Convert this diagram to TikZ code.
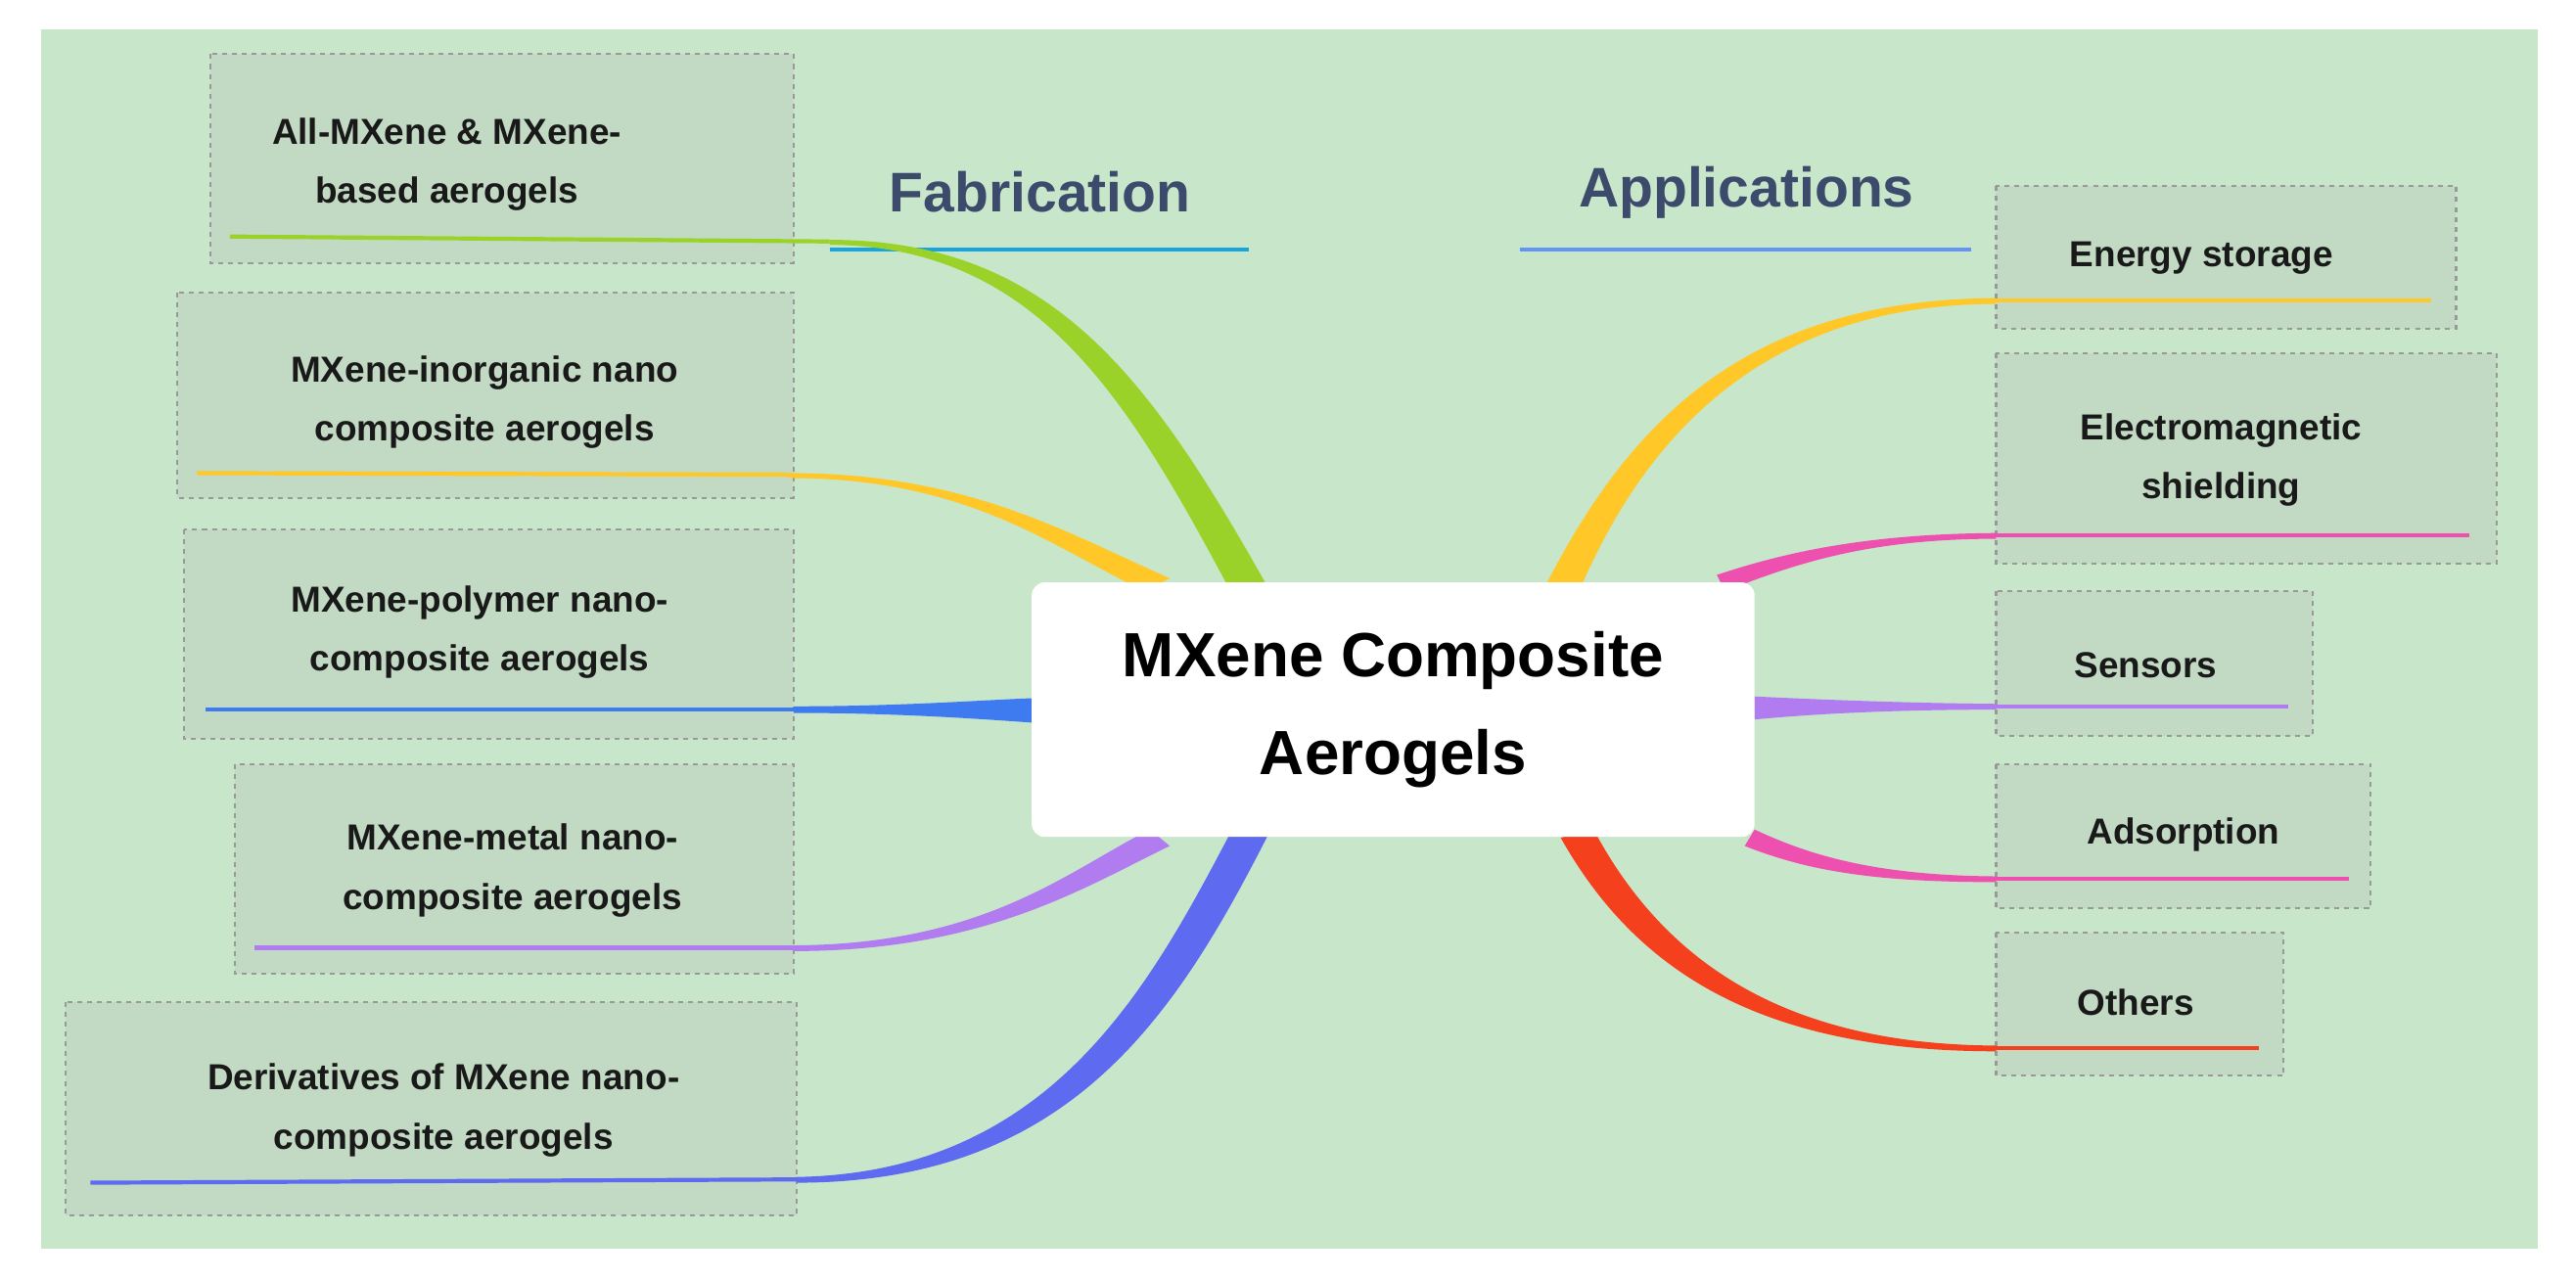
\documentclass[tikz,border=0pt]{standalone}
\usepackage{fontspec}
\setmainfont{Liberation Sans}
\begin{document}
\begin{tikzpicture}[x=1pt,y=-1pt,
  leaf/.style={draw=gray!80,dashed,line width=1.2pt,fill=boxfill},
  lbl/.style={font=\bfseries\fontsize{22}{36}\selectfont,align=center,text=black!90},
  thin/.style={line width=2.5pt}]
\definecolor{bg}{HTML}{C8E6C9}
\definecolor{boxfill}{HTML}{C2DAC3}
\definecolor{cgreen}{HTML}{9BD22A}
\definecolor{cyellow}{HTML}{FFC828}
\definecolor{cblue}{HTML}{3F7BF0}
\definecolor{cpurple}{HTML}{B07CF0}
\definecolor{cviolet}{HTML}{5E6AF0}
\definecolor{cpink}{HTML}{EE50B0}
\definecolor{cred}{HTML}{F5401E}
\definecolor{title}{HTML}{3C4A6C}
\useasboundingbox (0,0) rectangle (1568,779);
\fill[bg] (25,18) rectangle (1545,760);
% leaf boxes
\draw[leaf] (128,33) rectangle (483,160);
\draw[leaf] (108,178) rectangle (483,303);
\draw[leaf] (112,322) rectangle (483,450);
\draw[leaf] (143,465) rectangle (483,593);
\draw[leaf] (40,610) rectangle (485,740);
\draw[leaf] (1215,113) rectangle (1495,200);
\draw[leaf] (1215,215) rectangle (1520,343);
\draw[leaf] (1215,360) rectangle (1408,448);
\draw[leaf] (1215,465) rectangle (1443,553);
\draw[leaf] (1215,568) rectangle (1390,655);
% titles
\node[font=\bfseries\fontsize{34}{40}\selectfont,text=title] (fab) at (633,117) {Fabrication};
\node[font=\bfseries\fontsize{34}{40}\selectfont,text=title] (app) at (1063,117) {Applications};
\draw[cyan!80!teal,line width=2pt] (505,152) -- (760,152);
\draw[cblue!80,line width=2pt] (925,152) -- (1200,152);
% left branches
\draw[cgreen,thin] (140,144) -- (505,147);
\fill[cgreen] (505,146) .. controls (640,146) and (700,230) .. (772,358) -- (748,358) .. controls (685,240) and (630,150) .. (505,149) -- cycle;
\draw[cyellow,thin] (120,288) -- (480,289);
\fill[cyellow] (480,288) .. controls (590,288) and (650,325) .. (712,352) -- (697,360) .. controls (640,333) and (590,291) .. (480,291) -- cycle;
\draw[cblue,thin] (125,432) -- (483,432);
\fill[cblue] (483,430) .. controls (550,430) and (600,426) .. (630,425) -- (630,440) .. controls (600,438) and (550,434) .. (483,434) -- cycle;
\draw[cpurple,thin] (155,577) -- (483,577);
\fill[cpurple] (483,575.5) .. controls (600,575) and (650,530) .. (700,505) -- (712,515) .. controls (660,540) and (600,579) .. (483,579) -- cycle;
\draw[cviolet,thin] (55,720) -- (485,718);
\fill[cviolet] (485,716.5) .. controls (640,714) and (700,600) .. (750,505) -- (772,508) .. controls (715,620) and (650,720) .. (485,720) -- cycle;
% right branches
\draw[cyellow,thin] (1215,183) -- (1480,183);
\fill[cyellow] (1215,181.5) .. controls (1060,182) and (990,260) .. (940,358) -- (962,358) .. controls (1000,270) and (1070,185) .. (1215,185) -- cycle;
\draw[cpink,thin] (1215,326) -- (1503,326);
\fill[cpink] (1215,324.5) .. controls (1140,325) and (1090,335) .. (1045,350) -- (1050,360) .. controls (1095,342) and (1140,328) .. (1215,328) -- cycle;
\draw[cpurple,thin] (1215,430) -- (1393,430);
\fill[cpurple] (1215,428.5) .. controls (1160,428) and (1110,426) .. (1068,424) -- (1068,438) .. controls (1110,434) and (1160,432) .. (1215,432) -- cycle;
\draw[cpink,thin] (1215,535) -- (1430,535);
\fill[cpink] (1215,533.5) .. controls (1140,533) and (1100,520) .. (1068,505) -- (1062,515) .. controls (1100,530) and (1140,537) .. (1215,537) -- cycle;
\draw[cred,thin] (1215,638) -- (1375,638);
\fill[cred] (1215,636.5) .. controls (1080,636) and (1010,580) .. (970,505) -- (950,510) .. controls (995,590) and (1070,640) .. (1215,640) -- cycle;
% center
\node[fill=white,rounded corners=8pt,minimum width=440pt,minimum height=155pt,
  font=\bfseries\fontsize{38}{60}\selectfont,align=center] (c) at (848,432) {MXene Composite\\Aerogels};
% labels
\node[lbl] (l1) at (272,100) {All-MXene \& MXene-\\based aerogels};
\node[lbl] (l2) at (295,245) {MXene-inorganic nano\\composite aerogels};
\node[lbl] (l3) at (292,385) {MXene-polymer nano-\\composite aerogels};
\node[lbl] (l4) at (312,530) {MXene-metal nano-\\composite aerogels};
\node[lbl] (l5) at (270,676) {Derivatives of MXene nano-\\composite aerogels};
\node[lbl] (r1) at (1340,157) {Energy storage};
\node[lbl] (r2) at (1352,280) {Electromagnetic\\shielding};
\node[lbl] (r3) at (1306,405) {Sensors};
\node[lbl] (r4) at (1329,508) {Adsorption};
\node[lbl] (r5) at (1300,610) {Others};
\end{tikzpicture}
\end{document}
